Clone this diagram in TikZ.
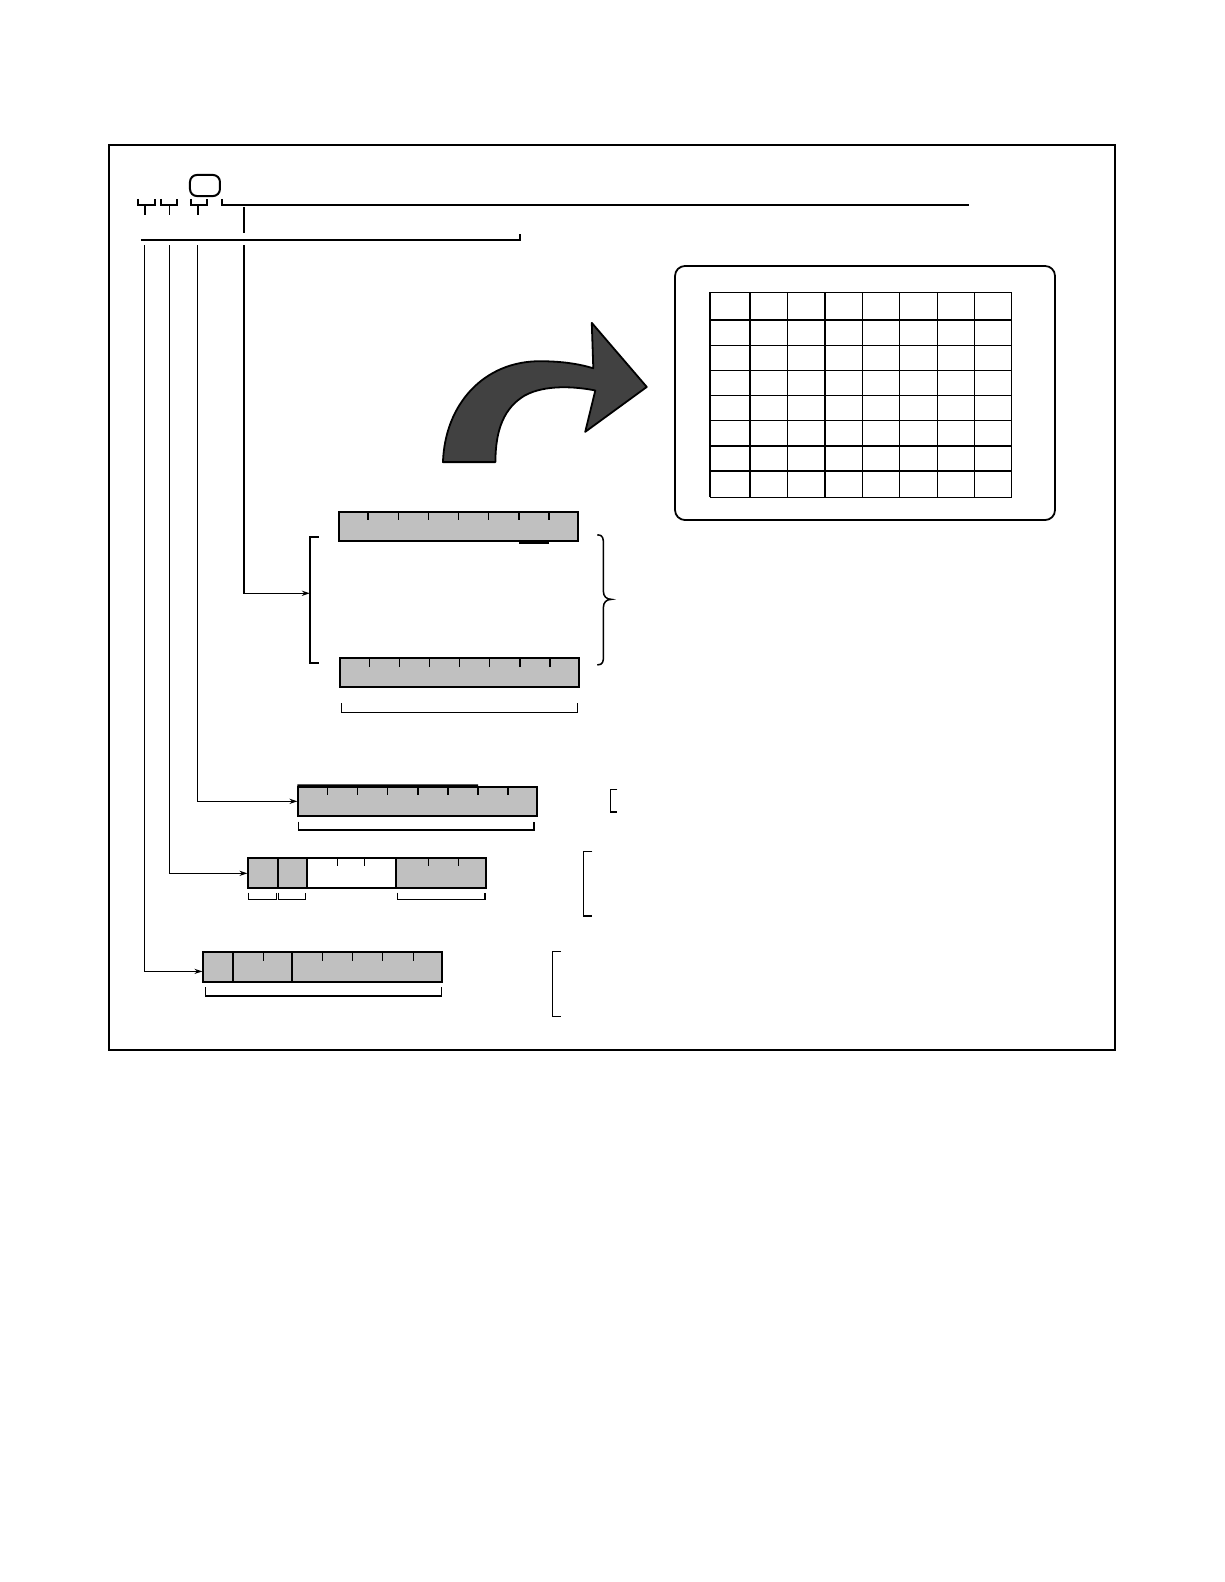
\documentclass[tikz,border=0pt]{standalone}
\usepackage{tikz}
\usetikzlibrary{
    arrows.meta,
    positioning,
    fit,
    calc
}
\definecolor{barfill}{HTML}{C0C0C0}
\definecolor{arrowfill}{HTML}{414141}
\tikzset{
    barbox/.style = {
        rectangle,
        draw,
        line width=0.9pt,
        inner sep=0pt
    },
    tapline/.style = {
        -{Stealth[length=4pt,width=2.6pt]},
        line width=0.7pt
    },
    holder/.style = {
        line width=0.75pt
    },
    gridrule/.style = {
        line width=0.75pt
    }
}
\begin{document}
\begin{tikzpicture}[x=0.5045pt,y=-0.5045pt]
\useasboundingbox (0,0) rectangle (1213.1,1567.9);
\draw[line width=0.9pt] (108,144) rectangle (1105,1041);

% header marks
\draw[holder] (136.8,197.2) |- (153.6,203.2) -- (153.6,197.2);
\draw[holder] (159.6,197.2) |- (175.4,203.2) -- (175.4,197.2);
\draw[holder] (189.3,197.2) |- (205.2,203.2) -- (205.2,197.2);
\draw[holder] (143.5,204) -- (143.5,213);
\draw[holder] (168,204) -- (168,213);
\draw[holder] (196,204) -- (196,213);
\node (tag) [draw,line width=1pt,rounded corners=3.5pt,inner sep=0pt,
    fit={(188.3,173.4) (218,194.3)}] {};
\draw[holder] (220,197.2) |- (960,203.2);
\draw[holder] (242,205) -- (242,231);
\draw[holder] (139.7,237.9) -- (515.4,237.9) -- (515.4,232);

\coordinate (tapE) at (143.5,243);
\coordinate (tapD) at (168,243);
\coordinate (tapC) at (196,243);
\coordinate (tapAB) at (242,243);

% screen
\draw[line width=0.9pt,rounded corners=5pt] (669,263.6) rectangle (1045.6,515.4);
\foreach \gx in {703.7,743.3,780.7,817.6,854.6,891.3,929,965.6,1002.7}
    \draw[gridrule] (\gx,289.7) -- (\gx,492.9);
\foreach \gy in {289.7,317.1,342.2,367,391.8,416.6,442,466.8,492.9}
    \draw[gridrule] (703.7,\gy) -- (1002.7,\gy);

% big arrow
\draw[fill=arrowfill,line width=0.9pt,line join=round]
    (439,458) .. controls (441,400) and (480,358) .. (535,358)
    .. controls (558,358) and (575,361) .. (588,365)
    -- (586.5,320) -- (641,383.5) -- (580,428) -- (590,387)
    .. controls (570,383) and (540,381) .. (520,392)
    .. controls (500,404) and (491,425) .. (491,458) -- cycle;

% bars A and B
\node (barA) [barbox,fill=barfill,fit={(336,507.5) (573,536.5)}] {};
\foreach \k in {1,...,7}
    \draw[holder] ($(barA.north west)!\k/8!(barA.north east)$) -- ++(0,9);
\draw[line width=1.3pt] ($(barA.south west)!6/8!(barA.south east)$) -- ($(barA.south west)!7/8!(barA.south east)$);
\node (barB) [barbox,fill=barfill,fit={(337,652.5) (574,681.2)}] {};
\foreach \k in {1,...,7}
    \draw[holder] ($(barB.north west)!\k/8!(barB.north east)$) -- ++(0,9);
\draw[holder] (338.6,697) |- (572.2,706) -- (572.2,697);
\draw[holder] (316,532) -| (307,657) -- (316,657);
\coordinate (brkAB) at (307,588);
\draw[holder] (592,530) .. controls (598,530) and (598,534) .. (598,540) -- (598,586)
    .. controls (598,591) and (601,594) .. (606,594)
    .. controls (601,594) and (598,597) .. (598,602) -- (598,650)
    .. controls (598,655) and (598,659) .. (592,659);

% bar C
\node (barC) [barbox,fill=barfill,fit={(295.7,779.7) (532.5,808.7)}] {};
\foreach \k in {1,...,7}
    \draw[holder] ($(barC.north west)!\k/8!(barC.north east)$) -- ++(0,9);
\draw[line width=1.4pt] (barC.north west) -- ($(barC.north west)!6/8!(barC.north east)$);
\draw[holder] (295.7,814.4) |- (529.2,822.6) -- (529.2,814.4);
\draw[holder] (611.8,782.3) -| (605.2,805) -- (611.8,805);

% bar D
\fill[barfill] (246.1,850.7) rectangle (304.6,880.4);
\fill[barfill] (392.5,850.7) rectangle (481.7,880.4);
\node (barD) [barbox,fit={(246.1,850.7) (481.7,880.4)}] {};
\foreach \dx in {275.9,304.6,392.5}
    \draw[barbox] (\dx,850.7) -- (\dx,880.4);
\foreach \dx in {334.3,361.4,424.8,454.6}
    \draw[holder] (\dx,850.7) -- ++(0,8);
\draw[holder] (246.1,884.7) |- (274.2,891.3) -- (274.2,884.7);
\draw[holder] (275.9,884.7) |- (303,891.3) -- (303,884.7);
\draw[holder] (393.8,884.7) |- (480.7,891.3) -- (480.7,884.7);
\draw[holder] (587,844.1) -| (578.1,907.8) -- (587,907.8);

% bar E
\node (barE) [barbox,fill=barfill,fit={(201.5,943.9) (437.7,973.6)}] {};
\foreach \ex in {231.3,289.7}
    \draw[barbox] (\ex,943.9) -- (\ex,973.6);
\foreach \ex in {261,319.5,349.2,378.9,409.6}
    \draw[holder] (\ex,943.9) -- ++(0,9);
\draw[holder] (203.5,978.5) |- (437.4,987.1) -- (437.4,978.5);
\draw[holder] (556,943.2) -| (547.7,1007.4) -- (556,1007.4);

% connectors
\draw[tapline] (tapAB) |- (brkAB);
\draw[tapline] (tapC) |- (barC.west);
\draw[tapline] (tapD) |- (barD.west);
\draw[tapline] (tapE) |- ([yshift=-2pt]barE.west);
\end{tikzpicture}
\end{document}
